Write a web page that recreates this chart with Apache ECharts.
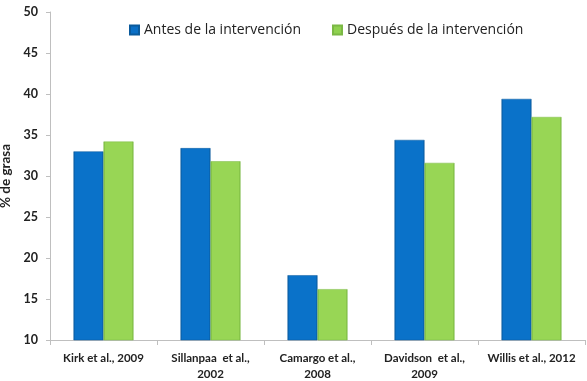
<!DOCTYPE html>
<html><head><meta charset="utf-8">
<script src="https://cdn.jsdelivr.net/npm/echarts@6/dist/echarts.min.js"></script>
<style>html,body{margin:0;padding:0;background:#fff}#c{width:587px;height:381px}</style>
</head><body><div id="c"></div>
<script>
const categories = ['Kirk et al., 2009', 'Sillanpaa  et al.,\n2002', 'Camargo et al.,\n2008', 'Davidson  et al.,\n2009', 'Willis et al., 2012'];
const antes = [33.0, 33.4, 17.9, 34.4, 39.4];
const despues = [34.2, 31.8, 16.2, 31.6, 37.2];
const seriesNames = ['Antes de la intervención', 'Después de la intervención'];

function grad(edge, mid) {
  return new echarts.graphic.LinearGradient(0, 0, 1, 0, [
    {offset: 0, color: edge}, {offset: 0.06, color: mid}, {offset: 0.94, color: mid}, {offset: 1, color: edge}
  ]);
}
const chart = echarts.init(document.getElementById('c'));
chart.setOption({
  animation: false,
  textStyle: {fontFamily: 'Lato'},
  legend: {
    top: 18, left: 124, itemGap: 31, itemWidth: 9, itemHeight: 9,
    textStyle: {fontSize: 14, color: '#222', fontFamily: 'Open Sans'},
    data: [{name: seriesNames[0], icon: 'rect', itemStyle: {color: '#0a6fc6'}},
           {name: seriesNames[1], icon: 'rect', itemStyle: {color: '#8fd14f'}}]
  },
  grid: {left: 50, right: 2, top: 12, bottom: 41, containLabel: false, outerBoundsMode: 'none'},
  xAxis: {
    type: 'category', data: categories,
    axisLine: {lineStyle: {color: '#bfbfbf'}},
    axisTick: {show: true, length: 5, lineStyle: {color: '#bfbfbf'}},
    axisLabel: {fontSize: 11.5, fontWeight: 'bold', color: '#222', margin: 10, lineHeight: 16, interval: 0, fontFamily: 'Lato'}
  },
  yAxis: {
    type: 'value', min: 10, max: 50, interval: 5,
    name: '% de grasa', nameLocation: 'middle', nameGap: 31,
    nameTextStyle: {fontSize: 13.5, fontWeight: 'bold', color: '#222', fontFamily: 'Lato'},
    axisLine: {show: true, lineStyle: {color: '#bfbfbf'}},
    axisTick: {show: true, length: 4, lineStyle: {color: '#bfbfbf'}},
    axisLabel: {fontSize: 12.5, fontWeight: 'bold', color: '#222', margin: 12, fontFamily: 'Lato'},
    splitLine: {show: false}
  },
  series: [
    {name: seriesNames[0], type: 'bar', data: antes, barWidth: 30, barGap: '0%',
     itemStyle: {color: grad('#0b5aa0', '#0a72c9'), borderColor: '#0a5a9c', borderWidth: 0.5}},
    {name: seriesNames[1], type: 'bar', data: despues, barWidth: 30,
     itemStyle: {color: grad('#76b33c', '#98d655'), borderColor: '#7bb845', borderWidth: 0.5}}
  ]
});
</script></body></html>
